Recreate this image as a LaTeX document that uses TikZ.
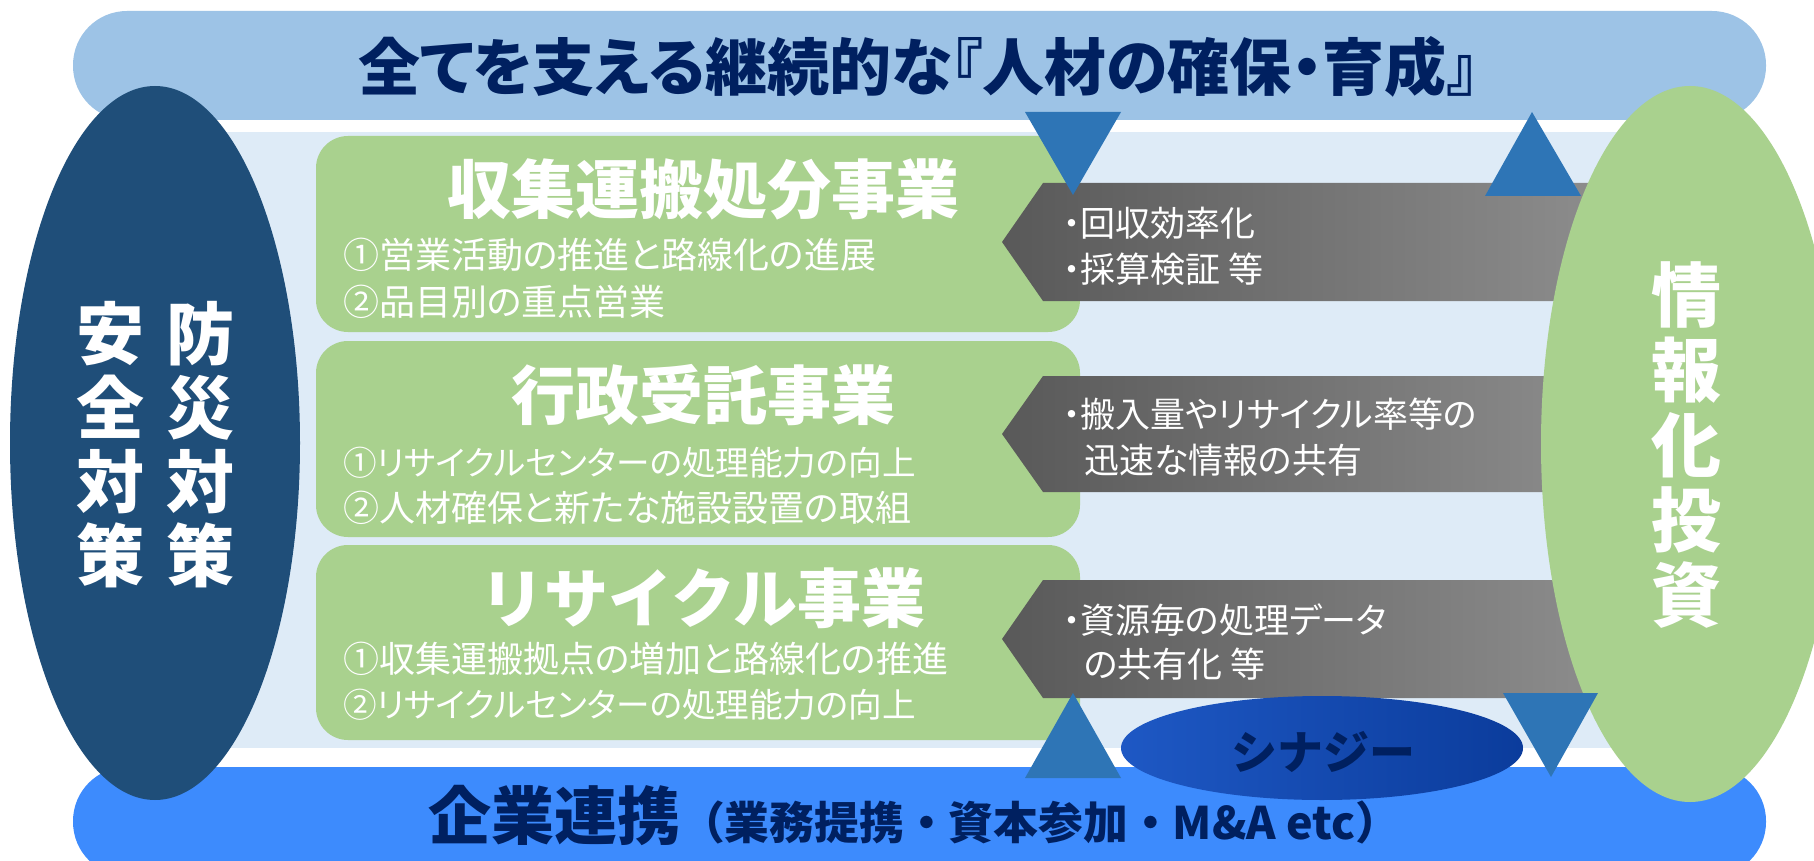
\documentclass[tikz,border=0pt]{standalone}
\usepackage{fontspec}
\setmainfont{Noto Sans CJK JP}
\newfontfamily\propjp{Noto Sans CJK JP}[RawFeature=+palt]
\definecolor{skyband}{HTML}{9DC3E6}
\definecolor{paleband}{HTML}{DEEBF7}
\definecolor{deepnavy}{HTML}{1F4E79}
\definecolor{leaf}{HTML}{A9D18E}
\definecolor{wedgeblue}{HTML}{2E75B6}
\definecolor{brightband}{HTML}{3D8BFD}
\definecolor{ink}{HTML}{002060}
\definecolor{darkgrey}{HTML}{595959}
\definecolor{lightgrey}{HTML}{8E8E8E}
\definecolor{synA}{HTML}{1E58C4}
\definecolor{synB}{HTML}{3F8EFA}
\definecolor{synC}{HTML}{0B3C9C}

\begin{document}
\begin{tikzpicture}[x=0.5pt,y=-0.5pt]
        \tikzstyle{every node}=[inner sep=0pt, outer sep=0pt]
        \tikzstyle{band}=[rounded corners=27pt]
        \tikzstyle{bizbox}=[fill=leaf, rounded corners=16pt]
        \tikzstyle{chevron}=[left color=darkgrey, right color=lightgrey]
        \tikzstyle{wedge}=[fill=wedgeblue]
        \tikzstyle{headline}=[text=ink, font=\propjp\bfseries\fontsize{31}{33}\selectfont]
        \tikzstyle{boxtitle}=[text=white, font=\bfseries\fontsize{32}{34}\selectfont]
        \tikzstyle{boxline}=[text=white, anchor=west, font=\propjp\fontsize{18}{20}\selectfont]
        \tikzstyle{longline}=[boxline, font=\propjp\fontsize{16.8}{19}\selectfont]
        \tikzstyle{arrowline}=[text=white, anchor=west, font=\propjp\fontsize{17.5}{19}\selectfont]
        \tikzstyle{pillar}=[text=white, align=center, font=\bfseries\fontsize{34}{37}\selectfont]
        \clip (0,0) rectangle (1814,861);
        \fill[white] (0,0) rectangle (1814,861);
        \fill[skyband, band] (73,11) rectangle (1766,120);
        \fill[paleband] (150,132) rectangle (1690,748);
        \fill[brightband, band] (73,767) rectangle (1766,876);
        \fill[bizbox] (316,136) rectangle (1080,332);
        \fill[bizbox] (316,341) rectangle (1080,537);
        \fill[bizbox] (316,545) rectangle (1080,740);
        \foreach \t/\m/\b in {183/242/301, 376/434/492, 580/639/698}
            \shade[chevron] (1043,\t) -- (1620,\t) -- (1620,\b) -- (1043,\b) -- (1002,\m) -- cycle;
        \fill[deepnavy] (155,443) ellipse [x radius=145, y radius=357];
        \fill[leaf] (1690,444) ellipse [x radius=149, y radius=358];
        \fill[wedge] (1025,112) -- (1121,112) -- (1073,195) -- cycle;
        \fill[wedge] (1485,196) -- (1581,196) -- (1532,112) -- cycle;
        \fill[wedge] (1025,778) -- (1121,778) -- (1073,693) -- cycle;
        \fill[wedge] (1503,693) -- (1598,693) -- (1551,777) -- cycle;
        \shade[left color=synA, middle color=synB, right color=synC] (1322,748) ellipse [x radius=201, y radius=52];
        \node[headline] (jinzai) at (918,67) {全てを支える継続的な『人材の確保・育成』};
        \node[pillar] (anzen) at (110,445) {安\\全\\対\\策};
        \node[pillar] (bousai) at (200,445) {防\\災\\対\\策};
        \node[pillar, font=\bfseries\fontsize{35}{37.5}\selectfont] (johoka) at (1686,445) {情\\報\\化\\投\\資};
        \node[boxtitle] (shushu) at (703,189) {収集運搬処分事業};
        \node[boxline] (shushuA) at (343,255) {①営業活動の推進と路線化の進展};
        \node[boxline] (shushuB) at (343,302) {②品目別の重点営業};
        \node[boxtitle] (gyosei) at (703,395) {行政受託事業};
        \node[longline] (gyoseiA) at (343,463) {①リサイクルセンターの処理能力の向上};
        \node[boxline] (gyoseiB) at (343,508) {②人材確保と新たな施設設置の取組};
        \node[boxtitle] (recycle) at (703,598) {リサイクル事業};
        \node[boxline] (recycleA) at (343,659) {①収集運搬拠点の増加と路線化の推進};
        \node[longline] (recycleB) at (343,705) {②リサイクルセンターの処理能力の向上};
        \node[arrowline] (kaishu) at (1063,223) {・回収効率化};
        \node[arrowline] (saisan) at (1063,269) {・採算検証 等};
        \node[arrowline] (hannyu) at (1063,414) {・搬入量やリサイクル率等の};
        \node[arrowline] (jinsoku) at (1084,460) {迅速な情報の共有};
        \node[arrowline] (shigen) at (1063,620) {・資源毎の処理データ};
        \node[arrowline] (kyoyu) at (1084,664) {の共有化 等};
        \node[text=ink, font=\bfseries\fontsize{23}{25}\selectfont] (synergy) at (1323,752) {シナジー};
        \node[text=ink, anchor=base west, font=\bfseries] (renkei) at (428,839) {{\fontsize{31.5}{33}\selectfont 企業連携}{\fontsize{22.4}{24}\selectfont （業務提携・資本参加・M\&A etc）}};
    \end{tikzpicture}
\end{document}
